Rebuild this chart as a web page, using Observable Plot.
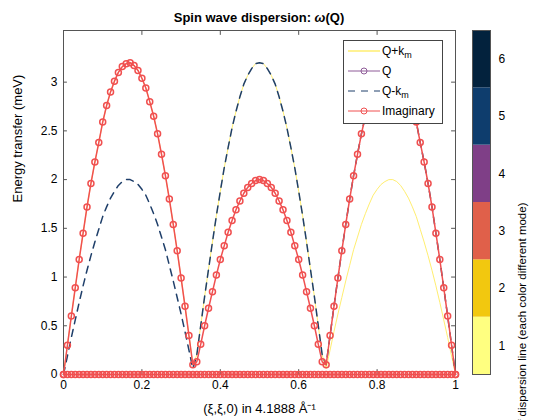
<!DOCTYPE html>
<html><head><meta charset="utf-8">
<script src="https://cdn.jsdelivr.net/npm/d3@7"></script>
<script src="https://cdn.jsdelivr.net/npm/@observablehq/plot@0.6"></script>
<style>
body{margin:0;background:#fff;font-family:"Liberation Sans",Arial,sans-serif;}
#wrap{position:relative;width:560px;height:420px;}
#main{position:absolute;left:0;top:0;}
#cb{position:absolute;left:440px;top:0;}
#title{position:absolute;left:63px;width:392px;top:10px;text-align:center;font-size:13px;font-weight:bold;}
#legend{position:absolute;left:343px;top:40px;width:98px;height:82px;border:1px solid #444;background:#fff;font-size:12px;}
#legend div{position:relative;height:20px;line-height:20px;padding-left:38px;}
#legend svg{position:absolute;left:4px;top:3px;}
</style></head><body>
<div id="wrap"><div id="main"></div><div id="cb"></div>
<div id="title">Spin wave dispersion: <i>ω</i>(Q)</div>
<div id="legend">
<div><svg width="32" height="14"><line x1="0" y1="7" x2="32" y2="7" stroke="#ffee70" stroke-width="1.5"/></svg>Q+k<sub style="font-size:9px">m</sub></div>
<div><svg width="32" height="14"><line x1="0" y1="7" x2="32" y2="7" stroke="#8e5b98"/><circle cx="16" cy="7" r="3" fill="none" stroke="#8e5b98"/></svg>Q</div>
<div><svg width="32" height="14"><line x1="0" y1="7" x2="32" y2="7" stroke="#1f3f6a" stroke-dasharray="7,6"/></svg>Q-k<sub style="font-size:9px">m</sub></div>
<div><svg width="32" height="14"><line x1="0" y1="7" x2="32" y2="7" stroke="#f05050"/><circle cx="16" cy="7" r="3" fill="none" stroke="#f05050"/></svg>Imaginary</div>
</div>
</div>
<script>
const xs = Array.from({length:101},(_,i)=>i/100);
const Q = [0,0.30,0.60,0.89,1.18,1.45,1.72,1.96,2.18,2.38,2.59,2.76,2.90,3.01,3.10,3.16,3.19,3.20,3.17,3.12,3.04,2.94,2.80,2.65,2.47,2.26,2.04,1.80,1.54,1.27,0.99,0.70,0.40,0.10,
0.13,0.31,0.50,0.68,0.85,1.02,1.18,1.32,1.46,1.58,1.69,1.78,1.86,1.92,1.96,1.99,2.00,1.99,1.96,1.92,1.86,1.78,1.69,1.58,1.46,1.32,1.18,1.02,0.85,0.68,0.50,0.31,0.13,
0.10,0.40,0.70,0.99,1.27,1.54,1.80,2.04,2.26,2.47,2.65,2.80,2.94,3.04,3.12,3.17,3.20,3.19,3.16,3.10,3.01,2.90,2.76,2.59,2.38,2.18,1.96,1.72,1.45,1.18,0.89,0.60,0.30,0];
const Qplus = [0,0.30,0.60,0.89,1.18,1.45,1.72,1.96,2.18,2.38,2.59,2.76,2.90,3.01,3.10,3.16,3.19,3.20,3.17,3.12,3.04,2.94,2.80,2.65,2.47,2.26,2.04,1.80,1.54,1.27,0.99,0.70,0.40,0.10,
0.20,0.50,0.80,1.08,1.36,1.63,1.88,2.12,2.33,2.53,2.70,2.85,2.98,3.07,3.14,3.19,3.20,3.19,3.14,3.07,2.98,2.85,2.70,2.53,2.33,2.12,1.88,1.63,1.36,1.08,0.80,0.50,0.20,
0.06,0.25,0.44,0.62,0.79,0.96,1.12,1.28,1.41,1.54,1.65,1.75,1.84,1.90,1.95,1.98,2.00,2.00,1.98,1.94,1.88,1.81,1.72,1.62,1.49,1.36,1.22,1.07,0.91,0.74,0.56,0.38,0.19,0];
const Qminus = [0,0.19,0.38,0.56,0.74,0.91,1.07,1.22,1.36,1.49,1.62,1.72,1.81,1.88,1.94,1.98,2.00,2.00,1.98,1.95,1.90,1.84,1.75,1.65,1.54,1.41,1.28,1.12,0.96,0.79,0.62,0.44,0.25,0.06,
0.20,0.50,0.80,1.08,1.36,1.63,1.88,2.12,2.33,2.53,2.70,2.85,2.98,3.07,3.14,3.19,3.20,3.19,3.14,3.07,2.98,2.85,2.70,2.53,2.33,2.12,1.88,1.63,1.36,1.08,0.80,0.50,0.20,
0.10,0.40,0.70,0.99,1.27,1.54,1.80,2.04,2.26,2.47,2.65,2.80,2.94,3.04,3.12,3.17,3.20,3.19,3.16,3.10,3.01,2.90,2.76,2.59,2.38,2.18,1.96,1.72,1.45,1.18,0.89,0.60,0.30,0];
const Imag = xs.map(()=>0);
const xTicks = [0,0.2,0.4,0.6,0.8,1];
const yTicks = [0,0.5,1,1.5,2,2.5,3];
const cbLevels = [1,2,3,4,5,6];
const cbColors = ["#ffff80","#f2c80f","#e0604a","#7f3f87","#0e3d6d","#03223d"];

const d = (ys)=>xs.map((x,i)=>({x,y:ys[i]}));
const main = Plot.plot({
  width:470,height:420,marginLeft:63,marginRight:15,marginTop:30,marginBottom:46,
  style:{fontFamily:"Liberation Sans, Arial, sans-serif",fontSize:"12px",color:"#000"},
  x:{domain:[0,1],ticks:xTicks,tickFormat:d=>d===0||d===1?String(d):d3.format(".1f")(d),label:null,tickSize:0,tickPadding:6},
  y:{domain:[0,3.53],ticks:yTicks,tickFormat:d=>String(d),label:null,tickSize:0,tickPadding:6},
  marks:[
    Plot.frame({stroke:"#555"}),
    Plot.ruleX(xTicks,{y1:0,y2:0.05,stroke:"#555"}),
    Plot.ruleX(xTicks,{y1:3.48,y2:3.53,stroke:"#555"}),
    Plot.ruleY(yTicks,{x1:0,x2:0.01,stroke:"#555"}),
    Plot.ruleY(yTicks,{x1:0.99,x2:1,stroke:"#555"}),
    Plot.line(d(Qplus),{x:"x",y:"y",stroke:"#ffee70",strokeWidth:1}),
    Plot.line(d(Qminus),{x:"x",y:"y",stroke:"#1f3f6a",strokeDasharray:"7,6"}),
    Plot.line(d(Q),{x:"x",y:"y",stroke:"#f05050"}),
    Plot.dot(d(Q),{x:"x",y:"y",r:3,stroke:"#f05050",fill:"none"}),
    Plot.line(d(Imag),{x:"x",y:"y",stroke:"#f05050"}),
    Plot.dot(d(Imag),{x:"x",y:"y",r:3,stroke:"#f05050",fill:"none"}),
    Plot.text(["(ξ,ξ,0) in 4.1888 Å⁻¹"],{frameAnchor:"bottom",dy:38,fontSize:13}),
    Plot.text(["Energy transfer (meV)"],{frameAnchor:"left",dx:-46,rotate:-90,fontSize:13})
  ]
});
document.getElementById("main").append(main);

const cb = Plot.plot({
  width:120,height:420,marginLeft:32,marginRight:70,marginTop:30,marginBottom:46,
  style:{fontFamily:"Liberation Sans, Arial, sans-serif",fontSize:"12px",color:"#000"},
  x:{domain:[0,1],axis:null},
  y:{domain:[0.5,6.5],ticks:cbLevels,tickFormat:d=>String(d),axis:"right",label:null,tickSize:0,tickPadding:8},
  marks:[
    Plot.rect(cbLevels,{x1:0,x2:1,y1:d=>d-0.5,y2:d=>d+0.5,fill:(d,i)=>cbColors[i]}),
    Plot.frame({stroke:"#555"}),
    Plot.text(["Index of dispersion line (each color different mode)"],{frameAnchor:"right",dx:32,rotate:-90,fontSize:11.5})
  ]
});
document.getElementById("cb").append(cb);
</script></body></html>
